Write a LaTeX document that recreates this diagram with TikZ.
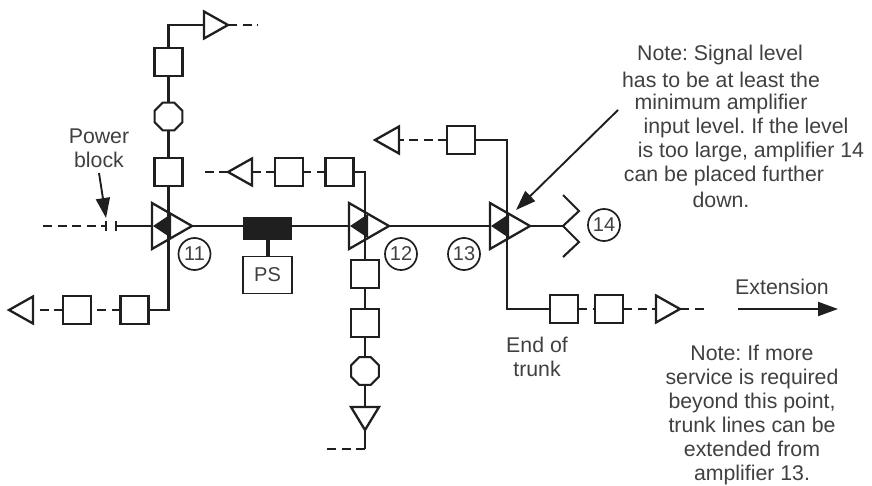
\documentclass[tikz,border=0pt]{standalone}
\usepackage{fontspec}
\setmainfont{Liberation Sans}
\usetikzlibrary{arrows.meta,shapes.geometric}
\definecolor{inkgray}{gray}{0.25}
\tikzset{
	cable/.style={line width=2.1pt, color=black!88},
	dashcable/.style={cable, dash pattern=on 9pt off 5.5pt},
	tap/.style={draw=black!88, line width=2.2pt, fill=white, minimum size=28pt, inner sep=0pt, outer sep=0pt},
	filterbox/.style={tap, regular polygon, regular polygon sides=8, minimum size=30pt},
	tri/.style={draw=black!88, line width=2.3pt, isosceles triangle, isosceles triangle stretches, inner sep=0pt, outer sep=0pt, minimum height=24pt, minimum width=27pt, anchor=apex},
	amptri/.style={tri, minimum height=40pt, minimum width=46pt},
	ampcore/.style={tri, fill=black!88, draw=none, minimum height=18pt, minimum width=24pt, shape border rotate=180},
	ampnum/.style={circle, draw=black!88, line width=1.7pt, minimum size=32pt, inner sep=0pt, text=inkgray, font=\fontsize{20}{24}\selectfont},
	lbl/.style={text=inkgray, align=center, inner sep=0pt, font=\fontsize{21.3}{24}\selectfont\frenchspacing},
	pointer/.style={line width=1.9pt, color=black!88, -{Triangle[length=20pt,width=14pt]}}
}
\def\ampnode(#1)(#2,#3){\node[amptri] (#1) at (#2,#3) {}; \node[ampcore] (#1core) at ({#2-39},#3) {};}

\begin{document}
\begin{tikzpicture}[x=1pt,y=-1pt]
		%%%%% START %%%%%
		\useasboundingbox (0, 0) rectangle (872, 486);
		
		% left branch going up
		\node[tri] (triup) at (228, 25) {};
		\node[tap] (boxup1) at (168.5, 62) {};
		\node[filterbox] (octup) at (168.5, 116.5) {};
		\node[tap] (boxup2) at (168.5, 172) {};
		\coordinate (endup) at (258, 25);
		
		% amplifiers on the trunk
		\ampnode(amp11)(192, 226)
		\ampnode(amp12)(389, 226)
		\ampnode(amp13)(530, 226)
		\node[ampnum] (num11) at (194.5, 254) {11};
		\node[ampnum] (num12) at (401, 254) {12};
		\node[ampnum] (num13) at (464, 254) {13};
		\node[ampnum] (num14) at (604, 225) {14};
		
		% power block in front of 11
		\node[fill=black!88, minimum width=2.2pt, minimum height=10pt, inner sep=0pt] (tick1) at (106, 226) {};
		\node[fill=black!88, minimum width=2.2pt, minimum height=10pt, inner sep=0pt] (tick2) at (116, 226) {};
		\coordinate (endin) at (43, 226);
		\coordinate (blocktip) at (106, 218);
		\coordinate (blocktail) at (99, 173);
		\node[lbl] (powerlbl) at (99, 148) {Power\\block};
		
		% power supply
		\node[fill=black!88, minimum width=49pt, minimum height=23pt, inner sep=0pt] (coupler) at (267.5, 228.5) {};
		\node[draw=black!88, line width=1.9pt, fill=white, minimum width=49pt, minimum height=37pt, inner sep=0pt, text=inkgray, font=\fontsize{20}{24}\selectfont] (psbox) at (267.5, 275) {PS};
		
		% branch left of 11
		\node[tap] (boxlow1) at (134.5, 310) {};
		\node[tap] (boxlow2) at (77, 310) {};
		\node[tri, shape border rotate=180] (trilow) at (9, 310) {};
		\coordinate (corner11) at (168.5, 310);
		
		% branch above 12
		\node[tap] (boxmid1) at (339.5, 172) {};
		\node[tap] (boxmid2) at (289, 172) {};
		\node[tri, shape border rotate=180] (trimid) at (228, 172) {};
		\coordinate (corner12) at (365, 172);
		\coordinate (endmid) at (200, 172);
		
		% branch below 12
		\node[tap] (boxdown1) at (365, 274) {};
		\node[tap] (boxdown2) at (365, 323) {};
		\node[filterbox] (octdown) at (365, 371) {};
		\node[tri, shape border rotate=270, minimum height=23pt, minimum width=28pt] (tridown) at (365, 430) {};
		\coordinate (cornerdown) at (365, 449);
		\coordinate (enddown) at (322, 449);
		
		% branch above 13
		\node[tap] (boxtop) at (461, 140) {};
		\node[tri, shape border rotate=180] (tritop) at (375, 140) {};
		\coordinate (corner13) at (507, 140);
		
		% end of trunk
		\coordinate (corner13low) at (507, 309);
		\node[tap] (boxext1) at (564, 309) {};
		\node[tap] (boxext2) at (609, 309) {};
		\node[tri] (triext) at (680, 309) {};
		\coordinate (endext) at (706, 309);
		\coordinate (split) at (563, 226);
		
		% connectors
		\draw[dashcable] (triup.apex) -- (endup);
		\draw[cable] (boxup1) |- (triup);
		\draw[cable] (boxup1) -- (octup);
		\draw[cable] (octup) -- (boxup2);
		\draw[cable] (boxup2) -- (corner11) -- (boxlow1);
		\draw[dashcable] (boxlow1) -- (boxlow2);
		\draw[dashcable] (boxlow2) -- (trilow);
		\draw[dashcable] (endin) -- (tick1);
		\draw[cable] (tick2) -- (amp11);
		\draw[cable] (amp11.apex) -- (amp11.apex -| coupler.west);
		\draw[line width=4pt, color=black!88] (coupler) -- (psbox);
		\draw[cable] (amp12 -| coupler.east) -- (amp12);
		\draw[cable] (amp12.apex) -- (amp13);
		\draw[cable] (boxmid1) -- (corner12) -- (boxdown1);
		\draw[dashcable] (boxmid1) -- (boxmid2);
		\draw[dashcable] (boxmid2) -- (trimid);
		\draw[dashcable] (trimid.apex) -- (endmid);
		\draw[cable] (boxdown1) -- (boxdown2);
		\draw[cable] (boxdown2) -- (octdown);
		\draw[cable] (octdown) -- (tridown);
		\draw[cable] (tridown.apex) -- (cornerdown);
		\draw[dashcable] (cornerdown) -- (enddown);
		\draw[cable] (boxtop) -- (corner13) -- (corner13low) -- (boxext1);
		\draw[dashcable] (boxtop) -- (tritop);
		\draw[dashcable] (boxext1) -- (boxext2);
		\draw[dashcable] (boxext2) -- (triext);
		\draw[dashcable] (triext.apex) -- (endext);
		\draw[cable] (amp13.apex) -- (split);
		\draw[cable] (563, 195) -- (579, 211) -- (split) -- (579, 242) -- (563, 257);
		
		% labels and arrows
		\draw[pointer] (blocktail) -- (blocktip);
		\coordinate (notetail) at (618, 110);
		\coordinate (notetip) at (516, 210);
		\draw[pointer] (notetail) -- (notetip);
		\coordinate (exttail) at (738, 309);
		\coordinate (exttip) at (838, 309);
		\draw[pointer, line width=2.2pt] (exttail) -- (exttip);
		
		\node[lbl] (extlbl) at (782, 287) {Extension};
		\node[lbl] (endlbl) at (537, 357) {End of\\trunk};
		\node[lbl] (note13) at (752, 415) {Note: If more\\service is required\\beyond this point,\\trunk lines can be\\extended from\\amplifier 13.};
		
		\node[lbl] (note1) at (720, 55) {Note: Signal level};
		\node[lbl] (note2) at (721, 80) {has to be at least the};
		\node[lbl] (note3) at (721, 104) {minimum amplifier};
		\node[lbl] (note4) at (746, 128) {input level. If the level};
		\node[lbl] (note5) at (751, 152) {is too large, amplifier 14};
		\node[lbl] (note6) at (724, 176) {can be placed further};
		\node[lbl] (note7) at (721, 200) {down.};
		
		%%%%% END %%%%%
	\end{tikzpicture}
\end{document}
